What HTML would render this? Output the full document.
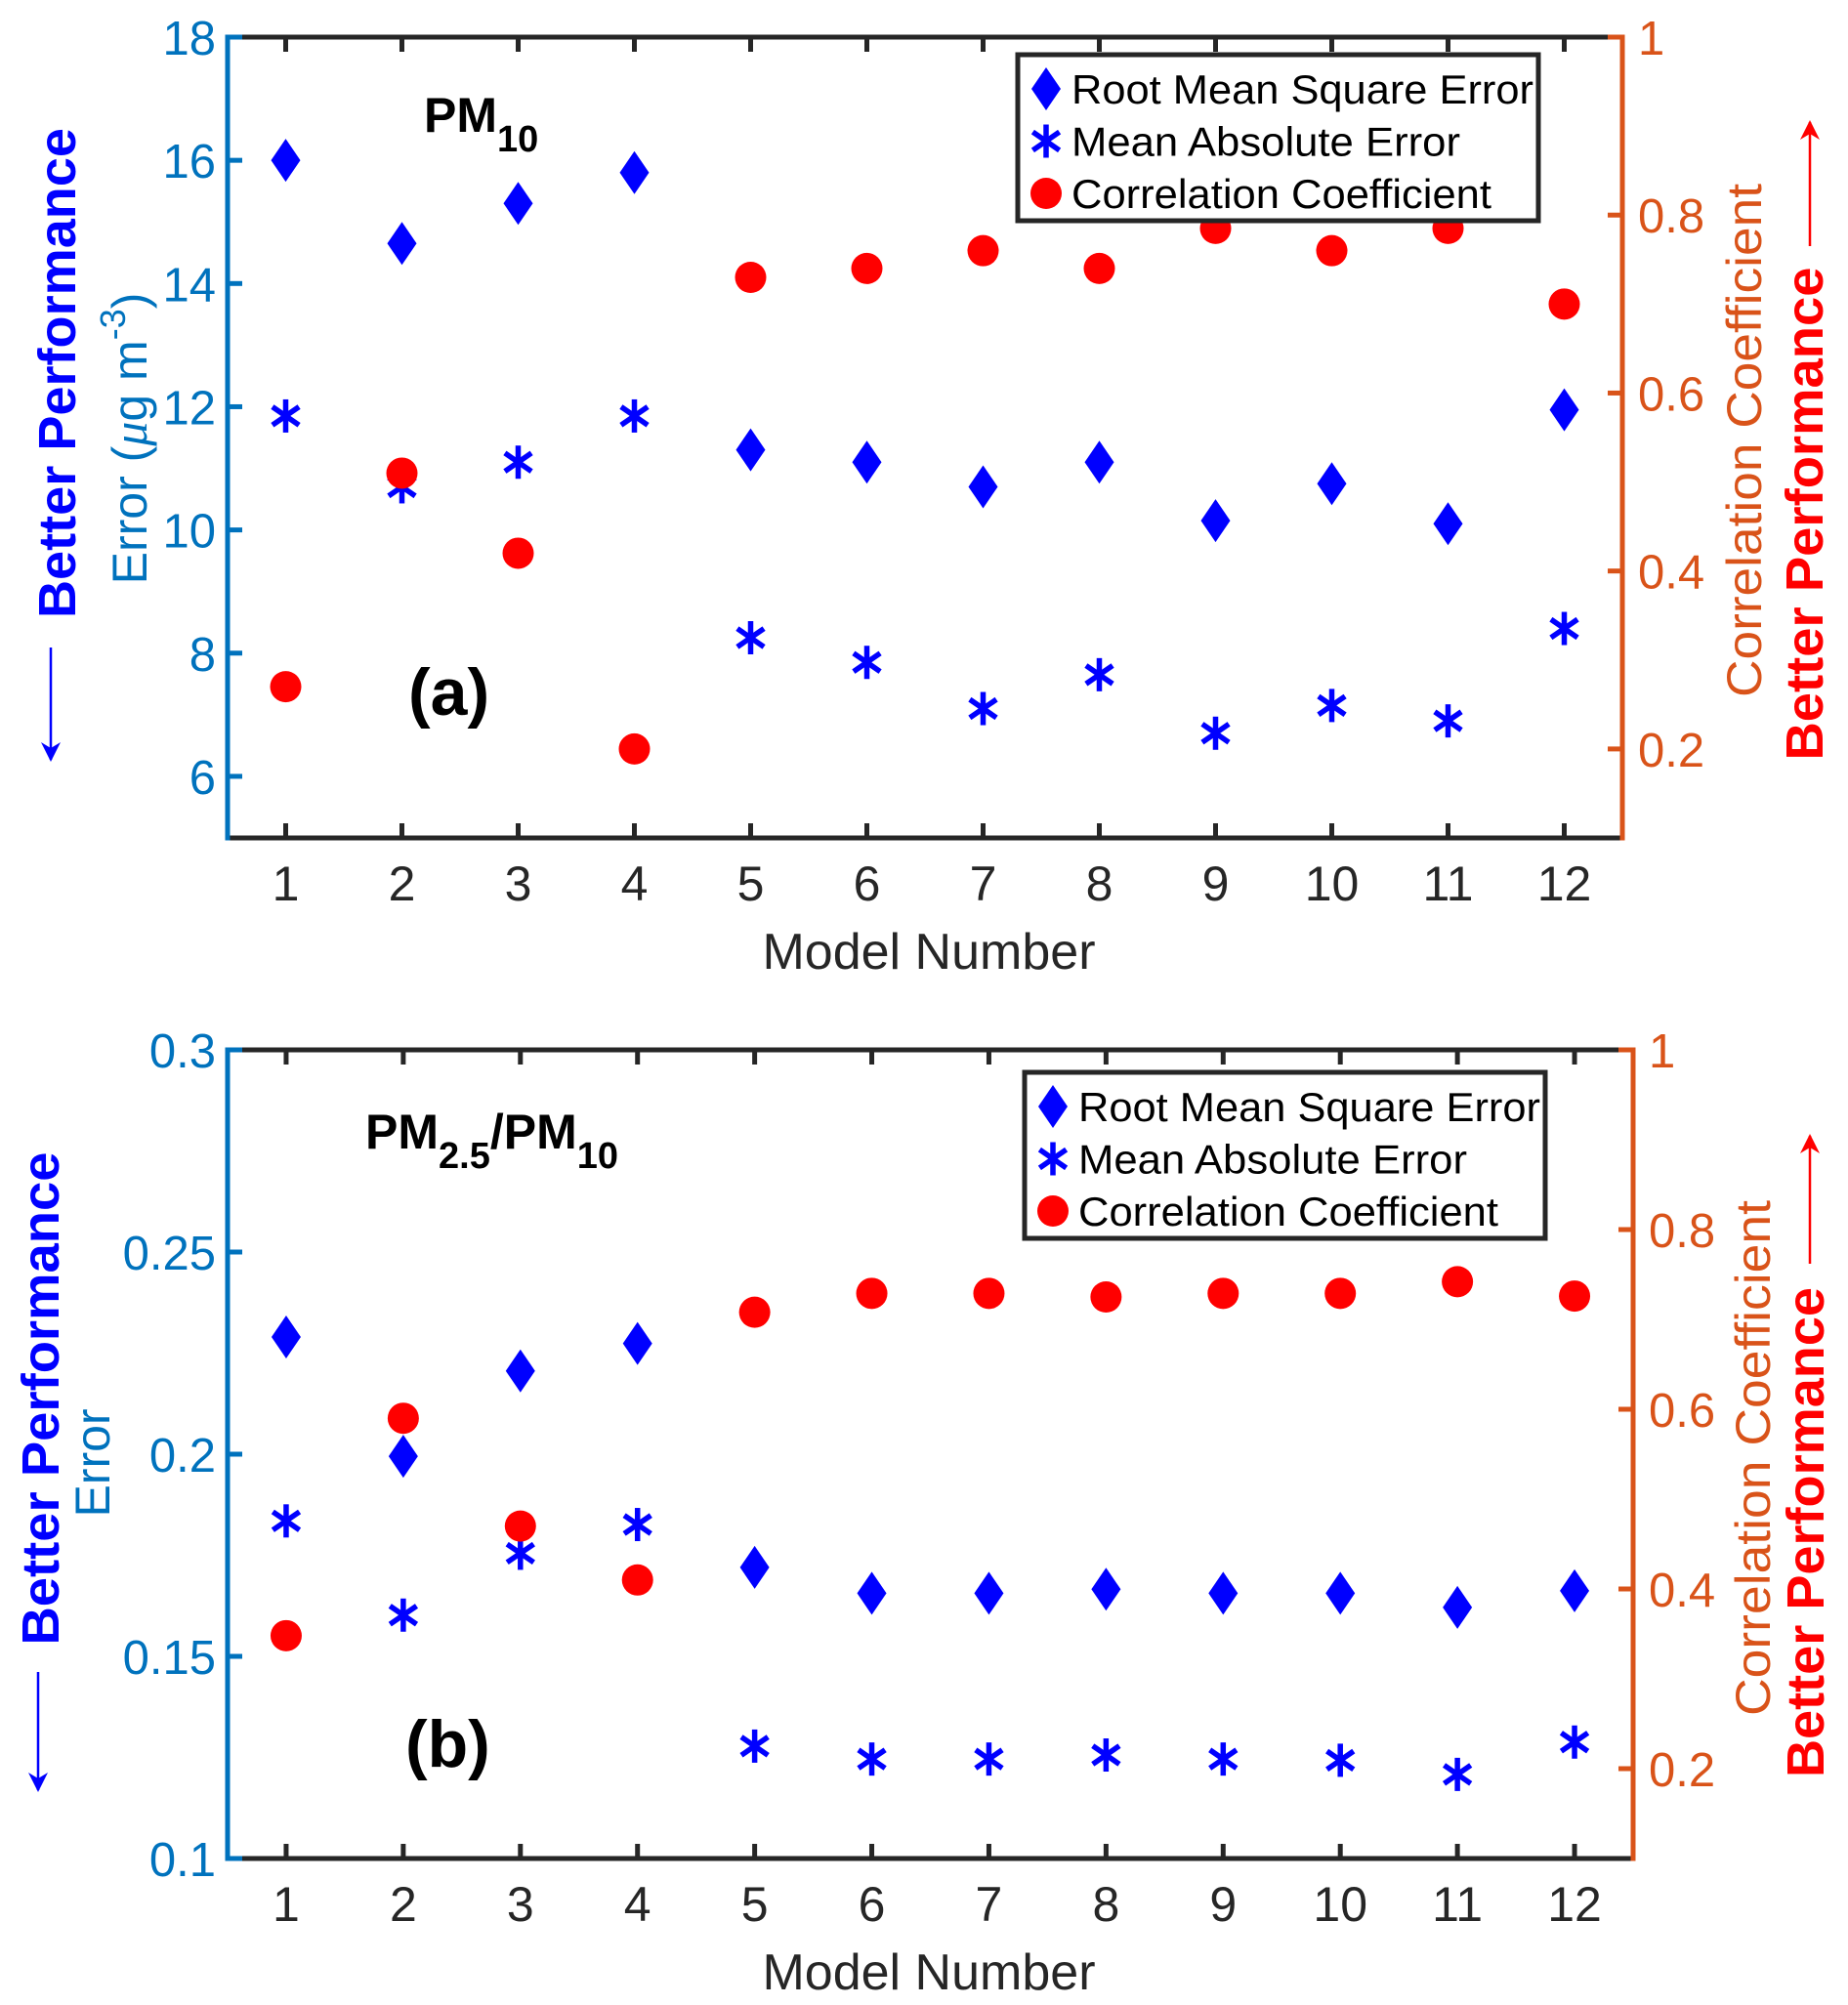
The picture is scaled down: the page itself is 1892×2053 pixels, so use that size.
<!DOCTYPE html>
<html><head><meta charset="utf-8"><style>
html,body{margin:0;padding:0;background:#fff}
svg{display:block;font-family:"Liberation Sans",Arial,sans-serif}
</style></head><body>
<svg id="fig" width="1892" height="2053" viewBox="0 0 1892 2053" xmlns="http://www.w3.org/2000/svg"></svg>
<script>
const models=[1,2,3,4,5,6,7,8,9,10,11,12];
const aRmse=[16.0,14.65,15.3,15.8,11.3,11.1,10.7,11.1,10.15,10.75,10.1,11.95];
const aMae=[11.85,10.7,11.1,11.85,8.25,7.85,7.1,7.65,6.7,7.15,6.9,8.4];
const aCc=[0.27,0.51,0.42,0.20,0.73,0.74,0.76,0.74,0.785,0.76,0.785,0.70];
const bRmse=[0.229,0.1995,0.2206,0.2274,0.172,0.1656,0.1656,0.1666,0.1656,0.1656,0.1621,0.1662];
const bMae=[0.1835,0.1602,0.1755,0.1826,0.1278,0.1246,0.1246,0.1256,0.1246,0.1243,0.1208,0.1288];
const bCc=[0.348,0.590,0.470,0.410,0.708,0.729,0.729,0.725,0.729,0.729,0.742,0.726];
const aLeftTicks=[6,8,10,12,14,16,18];
const bLeftTicks=[0.1,0.15,0.2,0.25,0.3];
const rightTicks=[0.2,0.4,0.6,0.8,1];
const legendLabels=["Root Mean Square Error","Mean Absolute Error","Correlation Coefficient"];

const NS="http://www.w3.org/2000/svg";
const svg=document.getElementById('fig');
function el(tag,attrs,parent,text){const e=document.createElementNS(NS,tag);for(const k in attrs)e.setAttribute(k,attrs[k]);if(text!==undefined)e.textContent=text;(parent||svg).appendChild(e);return e;}
const BLUE='#0072BD',ORANGE='#D95319',MB='#0000FF',MR='#FF0000',AX='#262626';

function diamond(g,x,y){return el('path',{d:`M${x} ${y-22}L${x+15} ${y}L${x} ${y+22}L${x-15} ${y}Z`,fill:MB},g);}
function star(g,x,y){const gg=el('g',{stroke:MB,'stroke-width':5.5},g);const r=17;
 el('line',{x1:x,y1:y-r,x2:x,y2:y+r},gg);
 el('line',{x1:x-r*0.8,y1:y-r*0.55,x2:x+r*0.8,y2:y+r*0.55},gg);
 el('line',{x1:x-r*0.8,y1:y+r*0.55,x2:x+r*0.8,y2:y-r*0.55},gg);return gg;}
function dot(g,x,y){return el('circle',{cx:x,cy:y,r:16,fill:MR},g);}

function panel(o){
 const g=el('g',{});
 
 
 const xS=v=>o.L+(v-0.5)/12*(o.R-o.L);
 const yL=v=>o.B-(v-o.lmin)/(o.lmax-o.lmin)*(o.B-o.T);
 const yR=v=>o.B-(v-0.1)/0.9*(o.B-o.T);
 el('line',{x1:o.L,y1:o.T,x2:o.R,y2:o.T,stroke:AX,'stroke-width':5},g);
 const xa=el('line',{x1:o.L,y1:o.B,x2:o.R,y2:o.B,stroke:AX,'stroke-width':5},g);
 
 
 const la=el('line',{x1:o.L,y1:o.T-2.5,x2:o.L,y2:o.B+2.5,stroke:BLUE,'stroke-width':5},g);
 
 
 const ra=el('line',{x1:o.R,y1:o.T-2.5,x2:o.R,y2:o.B+2.5,stroke:ORANGE,'stroke-width':5},g);
 
 
 models.forEach(m=>{const x=xS(m);
  el('line',{x1:x,y1:o.B,x2:x,y2:o.B-15,stroke:AX,'stroke-width':5},g);
  el('line',{x1:x,y1:o.T,x2:x,y2:o.T+15,stroke:AX,'stroke-width':5},g);
  const t=el('text',{x:x,y:o.B+64,'text-anchor':'middle','font-size':50,fill:AX},g,String(m));
  
  
 });
 o.lticks.forEach(v=>{const y=yL(v);
  el('line',{x1:o.L,y1:y,x2:o.L+15,y2:y,stroke:BLUE,'stroke-width':5},g);
  const t=el('text',{x:o.L-12,y:y+18,'text-anchor':'end','font-size':49,fill:BLUE},g,String(v));
  
  
 });
 rightTicks.forEach(v=>{const y=yR(v);
  el('line',{x1:o.R,y1:y,x2:o.R-15,y2:y,stroke:ORANGE,'stroke-width':5},g);
  const t=el('text',{x:o.R+16,y:y+18,'font-size':49,fill:ORANGE},g,String(v));
  
  
 });
 const xt=el('text',{x:951,y:o.B+134,'text-anchor':'middle','font-size':52,fill:AX},g,'Model Number');
 
 
 const sr=el('g',{},g);
 const sm=el('g',{},g);
 const sc=el('g',{},g);
 models.forEach((m,i)=>{
  const d=diamond(sr,xS(m),yL(o.rmse[i]));
  
  
  const s=star(sm,xS(m),yL(o.mae[i]));
  
  
  const c=dot(sc,xS(m),yR(o.cc[i]));
  
  
 });
 const lg=el('g',{},g);
 el('rect',{x:o.lgx,y:o.lgy,width:533,height:170,fill:'#fff',stroke:AX,'stroke-width':5},lg);
 const fns=[diamond,star,dot];
 const lens=[473,398,430];
 legendLabels.forEach((lab,i)=>{const cy=o.lgy+35+i*53.5;
  fns[i](lg,o.lgx+29,cy);
  const t=el('text',{x:o.lgx+55,y:cy+15,'font-size':42,fill:'#000',textLength:lens[i],lengthAdjust:'spacingAndGlyphs'},lg,lab);
  
  
 });
 return g;
}

panel({name:'panel-a-pm10',L:233,R:1661,T:38,B:858,lmin:5,lmax:18,lticks:aLeftTicks,rmse:aRmse,mae:aMae,cc:aCc,lgx:1042,lgy:56});
panel({name:'panel-b-ratio',L:233,R:1672,T:1075,B:1903,lmin:0.1,lmax:0.3,lticks:bLeftTicks,rmse:bRmse,mae:bMae,cc:bCc,lgx:1049,lgy:1098});
</script>
<svg width="1892" height="2053" style="position:absolute;left:0;top:0" xmlns="http://www.w3.org/2000/svg" font-family="Liberation Sans, Arial, sans-serif">
 <defs>
  <marker id="ab" viewBox="0 0 10 10" refX="9" refY="5" markerWidth="8" markerHeight="8" orient="auto" markerUnits="strokeWidth"><path d="M0 0L10 5L0 10L3 5Z" fill="#0000FF"/></marker>
  <marker id="ar" viewBox="0 0 10 10" refX="9" refY="5" markerWidth="8" markerHeight="8" orient="auto" markerUnits="strokeWidth"><path d="M0 0L10 5L0 10L3 5Z" fill="#FF0000"/></marker>
 </defs>
 <text x="434" y="135" font-size="50" font-weight="bold">PM<tspan font-size="38" dy="20">10</tspan></text>
 <text x="418" y="732" font-size="68" font-weight="bold">(a)</text>
 <text transform="translate(77,382) rotate(-90)" text-anchor="middle" font-size="54" font-weight="bold" fill="#0000FF" textLength="502" lengthAdjust="spacingAndGlyphs">Better Performance</text>
 <text transform="translate(150,449) rotate(-90)" text-anchor="middle" font-size="50" fill="#0072BD">Error (<tspan font-style="italic" font-family="Liberation Serif, serif">μ</tspan>g m<tspan font-size="36" dy="-22">-3</tspan><tspan dy="22">)</tspan></text>
 <line x1="52" y1="663" x2="52" y2="778" stroke="#0000FF" stroke-width="2.5" marker-end="url(#ab)"/>
 <text transform="translate(1803,451) rotate(-90)" text-anchor="middle" font-size="50" fill="#D95319" textLength="526" lengthAdjust="spacingAndGlyphs">Correlation Coefficient</text>
 <text transform="translate(1866,526) rotate(-90)" text-anchor="middle" font-size="54" font-weight="bold" fill="#FF0000" textLength="505" lengthAdjust="spacingAndGlyphs">Better Performance</text>
 <line x1="1853" y1="252" x2="1853" y2="125" stroke="#FF0000" stroke-width="2.5" marker-end="url(#ar)"/>
 <text x="374" y="1176" font-size="50" font-weight="bold">PM<tspan font-size="38" dy="20">2.5</tspan><tspan dy="-20">/PM</tspan><tspan font-size="38" dy="20">10</tspan></text>
 <text x="415" y="1809" font-size="68" font-weight="bold">(b)</text>
 <text transform="translate(60,1432) rotate(-90)" text-anchor="middle" font-size="54" font-weight="bold" fill="#0000FF" textLength="505" lengthAdjust="spacingAndGlyphs">Better Performance</text>
 <text transform="translate(112,1498) rotate(-90)" text-anchor="middle" font-size="50" fill="#0072BD">Error</text>
 <line x1="39" y1="1712" x2="39" y2="1833" stroke="#0000FF" stroke-width="2.5" marker-end="url(#ab)"/>
 <text transform="translate(1812,1493) rotate(-90)" text-anchor="middle" font-size="50" fill="#D95319" textLength="528" lengthAdjust="spacingAndGlyphs">Correlation Coefficient</text>
 <text transform="translate(1867,1569) rotate(-90)" text-anchor="middle" font-size="54" font-weight="bold" fill="#FF0000" textLength="502" lengthAdjust="spacingAndGlyphs">Better Performance</text>
 <line x1="1853" y1="1294" x2="1853" y2="1163" stroke="#FF0000" stroke-width="2.5" marker-end="url(#ar)"/>
</svg>
</body></html>
